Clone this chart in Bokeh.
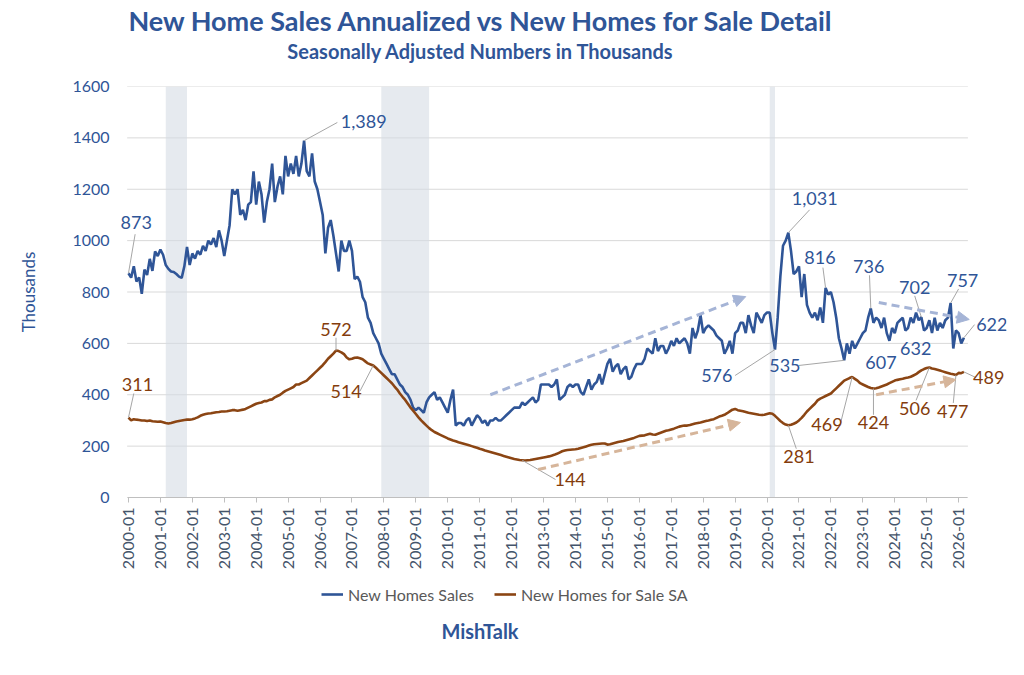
import math
from bokeh.plotting import figure
from bokeh.models import (ColumnDataSource, FixedTicker, Legend, LegendItem, Label, Arrow,
                          NormalHead, BoxAnnotation, Div, Range1d)
from bokeh.layouts import column
from bokeh.embed import file_html
from bokeh.resources import INLINE

years = list(range(2000, 2027))
sales = [
 873,856,900,841,857,793,887,866,929,882,958,940,
 965,945,905,890,880,878,870,860,855,900,975,905,
 950,930,960,945,980,960,1000,985,1010,975,1040,1000,
 940,1000,1060,1200,1180,1200,1100,1120,1080,1140,1150,1270,
 1140,1230,1180,1070,1150,1200,1300,1150,1210,1250,1180,1330,
 1250,1300,1260,1330,1250,1300,1389,1270,1250,1340,1230,1200,
 1150,1100,950,1050,1080,1020,950,880,1000,960,960,1000,
 960,850,860,840,780,760,700,680,640,620,600,560,
 540,520,500,480,480,460,440,430,410,400,380,350,
 340,350,340,330,370,390,400,410,380,390,370,350,
 330,380,420,280,290,290,280,300,310,280,300,320,
 310,290,300,280,300,300,310,300,300,310,320,330,
 340,350,350,350,370,360,370,380,390,370,380,440,
 440,440,440,430,440,460,380,390,400,430,440,430,
 440,440,410,400,430,460,420,440,450,480,440,480,
 520,540,490,510,520,480,500,510,460,470,500,520,
 520,520,540,580,570,560,620,570,590,590,560,580,
 610,590,620,600,610,620,600,560,660,620,650,710,
 640,660,670,660,650,630,620,610,560,580,610,560,
 640,650,680,680,640,710,670,640,720,700,680,710,
 720,720,640,576,700,860,980,1000,1031,960,870,880,
 900,780,870,750,720,700,720,690,740,680,816,790,
 800,760,700,620,580,534,600,560,610,580,600,620,
 640,650,700,736,680,700,690,660,700,640,610,660,
 640,680,690,700,650,660,700,680,720,690,702,650,
 660,690,640,700,650,680,660,690,700,757,580,650,
 640,600,622]
for_sale = [
 311,300,305,303,302,300,300,298,300,297,296,295,
 296,293,290,288,290,293,296,298,300,302,303,303,
 305,308,312,318,322,325,327,328,330,332,333,335,
 335,336,338,340,340,338,340,342,345,350,355,360,
 365,368,370,375,375,380,382,390,395,400,408,415,
 420,425,430,440,440,445,450,455,465,475,485,495,
 505,515,527,540,550,560,572,570,565,558,545,538,
 540,544,545,542,538,530,522,518,514,505,495,485,
 475,465,455,445,432,420,405,392,380,365,350,338,
 325,312,300,290,280,270,262,255,250,245,240,235,
 230,226,222,219,215,212,209,206,203,200,197,194,
 190,187,183,180,177,174,171,168,165,162,159,156,
 153,150,148,146,145,144,145,146,148,150,152,154,
 156,158,160,163,166,170,175,180,183,185,186,187,
 188,190,193,196,199,202,205,207,208,209,210,210,
 206,207,210,213,216,218,220,223,226,229,232,236,
 240,241,242,245,248,245,244,248,252,256,260,262,
 265,268,272,276,278,280,280,282,285,288,290,292,
 295,298,300,303,305,310,315,318,322,328,335,342,
 345,340,338,336,333,330,328,326,324,322,321,322,
 325,328,326,318,308,298,290,284,281,283,287,292,
 300,310,322,335,345,355,365,378,385,390,395,400,
 405,415,425,435,445,455,460,465,469,462,455,445,
 440,435,430,426,424,425,428,432,436,440,445,450,
 455,458,460,462,465,467,470,475,480,488,495,500,
 504,506,502,500,497,494,491,488,485,482,480,477,
 485,484,489]
months = list(range(len(sales)))
tick_labels = {12 * i: f"{y}-01" for i, y in enumerate(years)}
y_ticks = list(range(0, 1601, 200))
recessions = [(14, 22), (95, 113), (241, 243)]
x_span = (-0.5, 315.5)

# (text, label x, label y, align, point index, leader end x, leader end y)
blue_notes = [
 ("873", 2.9, 1069, "center", 0, 2.5, 1025),
 ("1,389", 79.8, 1464, "left", 66, 78.5, 1460),
 ("1,031", 257.9, 1163, "center", 248, 256, 1120),
 ("816", 259.9, 934, "center", 262, 261, 895),
 ("736", 278.2, 900, "center", 279, 278.5, 865),
 ("702", 295.5, 817, "center", 298, 295.5, 785),
 ("757", 313.5, 845, "center", 309, 312, 812),
 ("622", 318.6, 673, "left", 314, 318, 673),
 ("576", 227, 475, "right", 243, 228, 475),
 ("535", 246.7, 514, "center", 269, 252, 514),
 ("607", 282.8, 525, "center", None, 0, 0),
 ("632", 295.9, 580, "center", None, 0, 0),
]
brown_notes = [
 ("311", 3.4, 440, "center", 0, 2, 405),
 ("572", 78, 654, "center", 78, 78, 622),
 ("514", 81.8, 414, "center", 92, 87, 414),
 ("144", 166, 70, "center", 148, 160.5, 70),
 ("281", 252, 160, "center", 248, 251, 190),
 ("469", 262.5, 284, "center", 272, 267.5, 284),
 ("424", 280, 292, "center", 280, 280, 322),
 ("506", 295.5, 346, "center", 301, 296, 378),
 ("477", 309.8, 335, "center", 311, 310, 368),
 ("489", 323.3, 467, "center", 314, 318.5, 467),
]
# trend arrows: (x0, y0, x1, y1)
blue_arrows = [(136, 400, 232, 782), (282, 759, 316, 693)]
brown_arrows = [(154, 109, 230, 292), (281, 400, 311, 459)]

BLUE = "#2F5597"
BROWN = "#8B4513"
FONT = "Lato"

title = Div(text=f"<div style='width:1008px;text-align:center;font-family:{FONT};margin-left:-29px'>"
            f"<div style='font-size:27px;font-weight:bold;color:{BLUE};line-height:32px'>New Home Sales Annualized vs New Homes for Sale Detail</div>"
            f"<div style='font-size:20px;font-weight:bold;color:{BLUE};line-height:28px'>Seasonally Adjusted Numbers in Thousands</div></div>",
            width=1008, height=64)

p = figure(frame_width=886, frame_height=411, output_backend="svg", toolbar_location=None,
           x_range=Range1d(-3, 330), y_range=Range1d(0, 1600),
           min_border_left=120, min_border_right=2, min_border_top=12, min_border_bottom=70)
p.outline_line_color = None
p.xgrid.grid_line_color = None
p.ygrid.grid_line_color = None
p.segment(x0=[x_span[0]] * len(y_ticks), x1=[x_span[1]] * len(y_ticks), y0=y_ticks, y1=y_ticks,
          color="#D9D9D9", line_width=1, level="underlay")
p.yaxis.ticker = FixedTicker(ticks=y_ticks)
p.xaxis.ticker = FixedTicker(ticks=list(tick_labels.keys()))
p.xaxis.bounds = x_span
p.xaxis.major_label_overrides = tick_labels
p.xaxis.major_label_orientation = math.pi / 2
p.xaxis.minor_tick_line_color = None
p.yaxis.minor_tick_line_color = None
p.yaxis.major_tick_line_color = None
p.yaxis.axis_line_color = None
p.xaxis.axis_line_color = "#BFBFBF"
p.xaxis.major_tick_line_color = "#BFBFBF"
p.xaxis.major_tick_out = 5
p.xaxis.major_tick_in = 0
for ax in (p.xaxis, p.yaxis):
    ax.major_label_text_font = FONT
    ax.major_label_text_font_size = "16px"
p.yaxis.major_label_text_color = BLUE
p.xaxis.major_label_text_color = "#44546A"
p.yaxis.axis_label = "Thousands"
p.yaxis.axis_label_text_font = FONT
p.yaxis.axis_label_text_font_style = "normal"
p.yaxis.axis_label_text_font_size = "17px"
p.yaxis.axis_label_text_color = BLUE
p.yaxis.axis_label_standoff = 30

for a, b in recessions:
    p.add_layout(BoxAnnotation(left=a, right=b, fill_color="#D6DCE5", fill_alpha=0.6,
                               line_color=None, level="underlay"))

src = ColumnDataSource(dict(m=months, s=sales, f=for_sale))
r1 = p.line("m", "s", source=src, color=BLUE, line_width=2.6)
r2 = p.line("m", "f", source=src, color=BROWN, line_width=2.6)

for arrows, col in ((blue_arrows, "#A5B4D6"), (brown_arrows, "#D6B59A")):
    for x0, y0, x1, y1 in arrows:
        p.add_layout(Arrow(x_start=x0, y_start=y0, x_end=x1, y_end=y1, line_color=col,
                           line_width=3, line_dash="8 5",
                           end=NormalHead(size=12, fill_color=col, line_color=col)))

for notes, series, col in ((blue_notes, sales, BLUE), (brown_notes, for_sale, "#843C0C")):
    for text, lx, ly, align, idx, ex, ey in notes:
        if idx is not None:
            p.segment(x0=[idx], y0=[series[idx]], x1=[ex], y1=[ey], color="#A6A6A6", line_width=1)
        p.add_layout(Label(x=lx, y=ly, text=text, text_align=align, text_baseline="middle",
                           text_font=FONT, text_font_size="18px", text_color=col))

# legend strip
lg = figure(width=1008, height=40, output_backend="svg", toolbar_location=None,
            x_range=Range1d(0, 1), y_range=Range1d(0, 1), min_border=0)
lg.axis.visible = False
lg.grid.visible = False
lg.outline_line_color = None
d1 = lg.line(x=[2, 3], y=[2, 3], color=BLUE, line_width=2.6)
d2 = lg.line(x=[2, 3], y=[2, 3], color=BROWN, line_width=2.6)
legend = Legend(items=[LegendItem(label="New Homes Sales", renderers=[d1]),
                       LegendItem(label="New Homes for Sale SA", renderers=[d2])],
                orientation="horizontal", location=(201, 8), border_line_color=None,
                background_fill_alpha=0, padding=0, margin=0,
                label_text_font=FONT, label_text_font_size="16px", label_text_color="#595959",
                glyph_width=22, spacing=20, label_standoff=5)
lg.add_layout(legend, "center")

foot = Div(text=f"<div style='width:1008px;text-align:center;font-family:{FONT};font-size:20px;font-weight:bold;color:{BLUE};margin-left:-29px;margin-top:0px'>MishTalk</div>",
           width=1008, height=34)

layout = column(title, p, lg, foot, spacing=0)
open("out.html", "w").write(file_html(layout, INLINE))
